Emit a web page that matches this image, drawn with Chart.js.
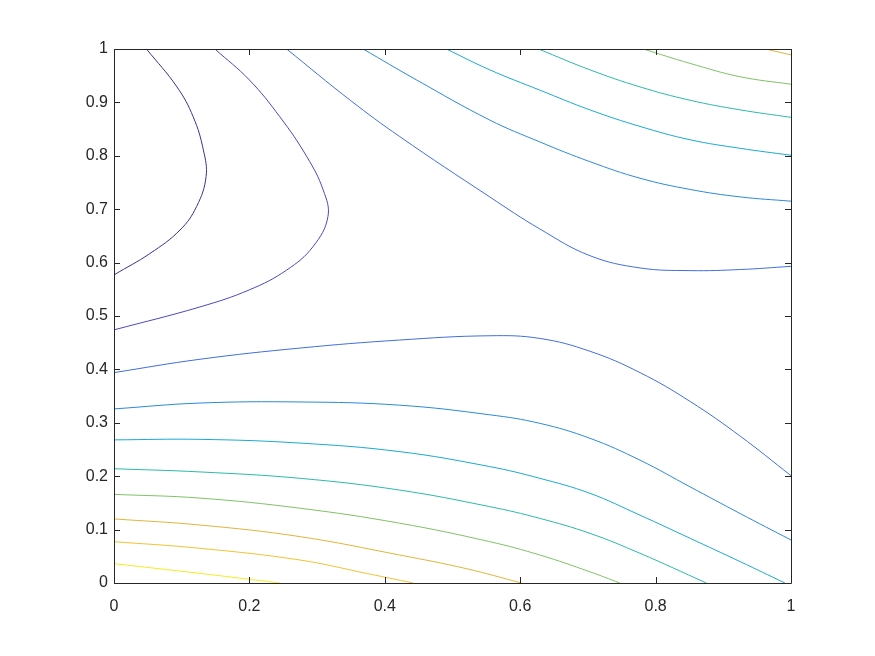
<!DOCTYPE html>
<html>
<head>
<meta charset="utf-8">
<script src="https://cdn.jsdelivr.net/npm/chart.js@4.4.0/dist/chart.umd.min.js"></script>
<style>
  html, body { margin: 0; padding: 0; background: #ffffff; }
  #wrap { width: 875px; height: 656px; }
</style>
</head>
<body>
<div id="wrap"><canvas id="c" width="875" height="656"></canvas></div>
<script>
// Tick labels
const xTicks = [0, 0.2, 0.4, 0.6, 0.8, 1];
const xTickLabels = ['0', '0.2', '0.4', '0.6', '0.8', '1'];
const yTicks = [0, 0.1, 0.2, 0.3, 0.4, 0.5, 0.6, 0.7, 0.8, 0.9, 1];
const yTickLabels = ['0', '0.1', '0.2', '0.3', '0.4', '0.5', '0.6', '0.7', '0.8', '0.9', '1'];

// Contour levels (lowest to highest), colours from the parula map
const levelColors = ['#3b2f91', '#4848c4', '#3f6ee0', '#2a8ad8', '#19aad2', '#2cb9ab', '#7fc267', '#e0b43c', '#f2c232', '#f4ec22'];

// Contour line points [x, y]
const level1 = [[0, 0.577], [0.053, 0.617], [0.0975, 0.661], [0.122, 0.705], [0.136, 0.761], [0.132, 0.811], [0.117, 0.873], [0.093, 0.929], [0.048, 1.0]];
const level2 = [[0, 0.474], [0.127, 0.517], [0.2, 0.549], [0.255, 0.586], [0.294, 0.63], [0.316, 0.686], [0.309, 0.736], [0.285, 0.798], [0.245, 0.873], [0.2, 0.942], [0.149, 1.0]];
const level3Top = [[0.255, 1.0], [0.349, 0.904], [0.422, 0.836], [0.555, 0.723], [0.629, 0.663], [0.703, 0.613], [0.777, 0.590], [0.851, 0.585], [0.925, 0.587], [1, 0.593]];
const level3Bottom = [[0, 0.394], [0.127, 0.419], [0.275, 0.44], [0.422, 0.455], [0.555, 0.463], [0.629, 0.458], [0.703, 0.434], [0.777, 0.394], [0.851, 0.340], [0.925, 0.275], [1, 0.201]];
const level4Top = [[0.368, 1.0], [0.447, 0.942], [0.555, 0.867], [0.629, 0.826], [0.703, 0.789], [0.777, 0.758], [0.851, 0.737], [0.925, 0.723], [1, 0.715]];
const level4Bottom = [[0, 0.326], [0.127, 0.337], [0.275, 0.339], [0.422, 0.333], [0.555, 0.315], [0.629, 0.299], [0.703, 0.271], [0.777, 0.23], [0.851, 0.18], [0.925, 0.13], [1, 0.0805]];
const level5Top = [[0.491, 1.0], [0.555, 0.961], [0.629, 0.923], [0.703, 0.886], [0.777, 0.855], [0.851, 0.83], [0.925, 0.814], [1, 0.801]];
const level5Bottom = [[0, 0.268], [0.127, 0.269], [0.275, 0.262], [0.422, 0.246], [0.555, 0.218], [0.629, 0.196], [0.703, 0.168], [0.777, 0.127], [0.851, 0.0837], [0.925, 0.04], [0.991, 0]];
const level6Top = [[0.627, 1.0], [0.703, 0.961], [0.777, 0.929], [0.851, 0.904], [0.925, 0.886], [1, 0.872]];
const level6Bottom = [[0, 0.214], [0.127, 0.208], [0.275, 0.196], [0.422, 0.174], [0.555, 0.143], [0.629, 0.121], [0.703, 0.093], [0.777, 0.0556], [0.875, 0]];
const level7Top = [[0.782, 1.0], [0.851, 0.973], [0.925, 0.948], [1, 0.934]];
const level7Bottom = [[0, 0.166], [0.127, 0.159], [0.275, 0.14], [0.422, 0.112], [0.555, 0.0774], [0.629, 0.0524], [0.703, 0.021], [0.747, 0]];
const level8Top = [[0.962, 1.0], [1, 0.989]];
const level8Bottom = [[0, 0.12], [0.127, 0.1086], [0.275, 0.0868], [0.422, 0.0524], [0.52, 0.027], [0.602, 0]];
const level9 = [[0, 0.0774], [0.127, 0.065], [0.275, 0.043], [0.373, 0.018], [0.442, 0]];
const level10 = [[0, 0.0362], [0.127, 0.018], [0.245, 0]];

// [points, level index]
const lines = [
  [level1, 0], [level2, 1], [level3Top, 2], [level3Bottom, 2], [level4Top, 3], [level4Bottom, 3],
  [level5Top, 4], [level5Bottom, 4], [level6Top, 5], [level6Bottom, 5], [level7Top, 6], [level7Bottom, 6],
  [level8Top, 7], [level8Bottom, 7], [level9, 8], [level10, 9]
];

const datasets = lines.map(([pts, lv]) => ({
  data: pts.map(p => ({ x: p[0], y: p[1] })),
  showLine: true,
  borderColor: levelColors[lv],
  borderWidth: 1,
  pointRadius: 0,
  tension: 0.4,
  fill: false
}));

const boxPlugin = {
  id: 'box',
  afterDraw(chart) {
    const { ctx, chartArea: a, scales } = chart;
    ctx.save();
    ctx.strokeStyle = '#262626';
    ctx.lineWidth = 1;
    ctx.beginPath();
    ctx.rect(Math.round(a.left) + 0.5, Math.round(a.top) + 0.5, Math.round(a.right - a.left), Math.round(a.bottom - a.top));
    ctx.stroke();
    const L = 6;
    ctx.beginPath();
    xTicks.forEach(v => {
      const px = Math.round(scales.x.getPixelForValue(v)) + 0.5;
      ctx.moveTo(px, a.bottom); ctx.lineTo(px, a.bottom - L);
      ctx.moveTo(px, a.top); ctx.lineTo(px, a.top + L);
    });
    yTicks.forEach(v => {
      const py = Math.round(scales.y.getPixelForValue(v)) + 0.5;
      ctx.moveTo(a.left, py); ctx.lineTo(a.left + L, py);
      ctx.moveTo(a.right, py); ctx.lineTo(a.right - L, py);
    });
    ctx.stroke();
    ctx.restore();
  }
};

new Chart(document.getElementById('c'), {
  type: 'scatter',
  data: { datasets },
  options: {
    responsive: false,
    animation: false,
    events: [],
    layout: { padding: { left: 0, top: 49, right: 84, bottom: 0 } },
    plugins: { legend: { display: false }, tooltip: { enabled: false } },
    scales: {
      x: {
        type: 'linear', min: 0, max: 1,
        afterFit: s => { s.height = 73; },
        afterBuildTicks: s => { s.ticks = xTicks.map(v => ({ value: v })); },
        grid: { display: false, drawTicks: false },
        border: { display: false },
        ticks: {
          padding: 14,
          color: '#262626',
          font: { family: 'Liberation Sans, Arial, sans-serif', size: 16 },
          maxRotation: 0,
          callback: (v) => xTickLabels[xTicks.findIndex(t => Math.abs(t - v) < 1e-9)]
        }
      },
      y: {
        type: 'linear', min: 0, max: 1,
        afterFit: s => { s.width = 114; },
        afterBuildTicks: s => { s.ticks = yTicks.map(v => ({ value: v })); },
        grid: { display: false, drawTicks: false },
        border: { display: false },
        ticks: {
          padding: 6,
          color: '#262626',
          font: { family: 'Liberation Sans, Arial, sans-serif', size: 16 },
          callback: (v) => yTickLabels[yTicks.findIndex(t => Math.abs(t - v) < 1e-9)]
        }
      }
    }
  },
  plugins: [boxPlugin]
});
</script>
</body>
</html>
